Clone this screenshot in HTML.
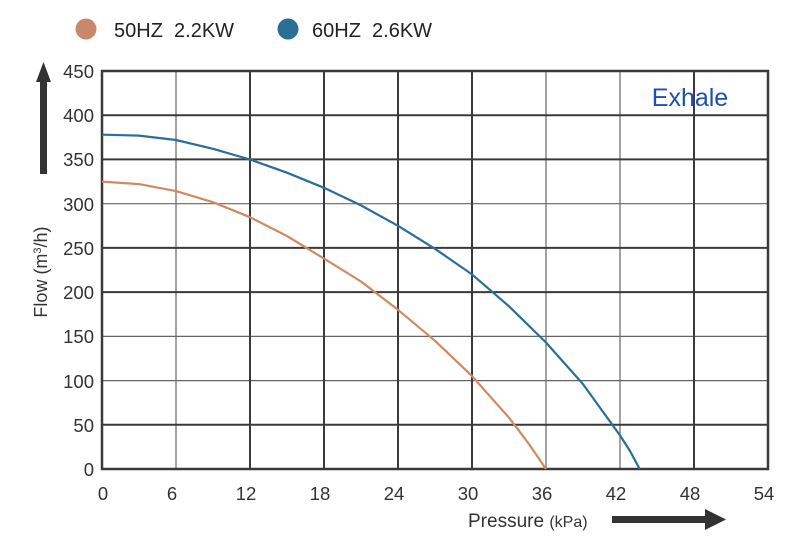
<!DOCTYPE html>
<html><head><style>
body{margin:0;background:#fff;}
svg text{font-family:"Liberation Sans",sans-serif;}
</style></head><body>
<svg width="800" height="547" viewBox="0 0 800 547" xmlns="http://www.w3.org/2000/svg">
<circle cx="86" cy="29" r="10.5" fill="#c8896a"/>
<text x="114" y="37" font-size="20" fill="#222" xml:space="preserve">50HZ&#160;&#160;2.2KW</text>
<circle cx="288" cy="29" r="10.5" fill="#2b6f97"/>
<text x="312" y="37" font-size="20" fill="#222" xml:space="preserve">60HZ&#160;&#160;2.6KW</text>
<g stroke="#666" stroke-width="1.2">
<line x1="176" y1="71" x2="176" y2="469"/>
<line x1="546" y1="71" x2="546" y2="469"/>
<line x1="620" y1="71" x2="620" y2="469"/>
<line x1="102" y1="380.6" x2="768" y2="380.6"/>
<line x1="102" y1="336.4" x2="768" y2="336.4"/>
<line x1="102" y1="203.7" x2="768" y2="203.7"/>
</g>
<g stroke="#3a3a3a" stroke-width="2">
<line x1="250" y1="71" x2="250" y2="469"/>
<line x1="324" y1="71" x2="324" y2="469"/>
<line x1="398" y1="71" x2="398" y2="469"/>
<line x1="472" y1="71" x2="472" y2="469"/>
<line x1="694" y1="71" x2="694" y2="469"/>
<line x1="102" y1="424.8" x2="768" y2="424.8"/>
<line x1="102" y1="292.1" x2="768" y2="292.1"/>
<line x1="102" y1="247.9" x2="768" y2="247.9"/>
<line x1="102" y1="159.4" x2="768" y2="159.4"/>
<line x1="102" y1="115.2" x2="768" y2="115.2"/>
</g>
<rect x="102" y="71" width="666" height="398" fill="none" stroke="#3a3a3a" stroke-width="2.5"/>
<polyline points="102,181.6 139,184.1 176,191.1 213,202.2 250,217.2 287,236 324,258.6 361,281.5 398,309.8 435,340.8 472,376.1 509,417.7 527.5,442 546,469" fill="none" stroke="#d08a62" stroke-width="2.2" stroke-linejoin="round"/>
<polyline points="102,134.7 139,135.6 176,140 213,148.8 250,159.5 287,172.7 324,187.8 361,205.4 398,225.8 435,248.8 472,274.4 509,306.3 546,342.5 583,384.1 620,435.4 630,451 639.7,469" fill="none" stroke="#2b6f97" stroke-width="2.2" stroke-linejoin="round"/>
<text x="690" y="106" font-size="25" fill="#1f4fb0" text-anchor="middle">Exhale</text>
<g font-size="18.5" fill="#333" text-anchor="end">
<text x="94" y="78">450</text><text x="94" y="122">400</text><text x="94" y="166">350</text>
<text x="94" y="211">300</text><text x="94" y="255">250</text><text x="94" y="299">200</text>
<text x="94" y="343">150</text><text x="94" y="388">100</text><text x="94" y="432">50</text>
<text x="94" y="476">0</text>
</g>
<g font-size="18.5" fill="#333" text-anchor="middle">
<text x="103" y="500">0</text><text x="172" y="500">6</text><text x="246" y="500">12</text>
<text x="320" y="500">18</text><text x="394" y="500">24</text><text x="468" y="500">30</text>
<text x="542" y="500">36</text><text x="616" y="500">42</text><text x="690" y="500">48</text>
<text x="764" y="500">54</text>
</g>
<text x="468" y="527" font-size="19" fill="#333" xml:space="preserve">Pressure <tspan font-size="16">(kPa)</tspan></text>
<rect x="612" y="516" width="100" height="7" fill="#333"/>
<polygon points="705,509 726,519.5 705,530" fill="#333"/>
<rect x="40" y="80" width="7" height="94" fill="#333"/>
<polygon points="36,82 43.5,62 51,82" fill="#333"/>
<text transform="translate(47,272) rotate(-90)" font-size="18" fill="#333" text-anchor="middle">Flow (m<tspan font-size="11" dy="-6">3</tspan><tspan dy="6">/h)</tspan></text>
</svg>
</body></html>
